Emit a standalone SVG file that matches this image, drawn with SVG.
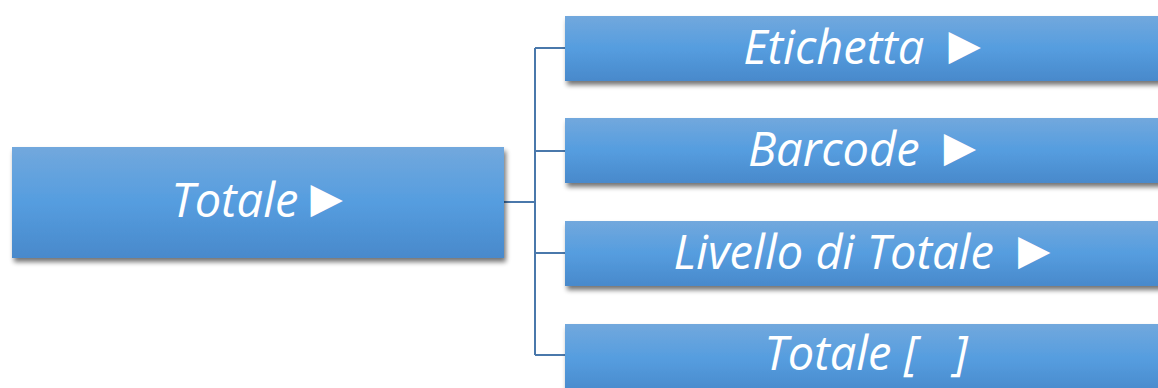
<svg xmlns="http://www.w3.org/2000/svg" width="1158" height="388" viewBox="0 0 1158 388">
<defs>
<linearGradient id="g" x1="0" y1="0" x2="0" y2="1">
<stop offset="0" stop-color="#72a8dd"/>
<stop offset="0.5" stop-color="#559ddf"/>
<stop offset="1" stop-color="#4989cb"/>
</linearGradient>
<filter id="sh" x="-10%" y="-20%" width="120%" height="150%">
<feGaussianBlur in="SourceAlpha" stdDeviation="2.5"/>
<feOffset dx="2" dy="4" result="b"/>
<feComponentTransfer><feFuncA type="linear" slope="0.55"/></feComponentTransfer>
<feMerge><feMergeNode/><feMergeNode in="SourceGraphic"/></feMerge>
</filter>
</defs>
<style>
.box{fill:url(#g);filter:url(#sh)}
.t{font-family:"Open Sans","Liberation Sans",sans-serif;font-style:italic;font-size:47px;fill:#ffffff;text-anchor:middle;white-space:pre}
.tri{font-family:"DejaVu Sans",sans-serif;font-style:normal;font-size:42px}
.c{fill:none;stroke:#4a78ab;stroke-width:2}
</style>
<rect width="1158" height="388" fill="#ffffff"/>
<g id="connectors">
<path class="c" d="M504 202 H535 M535 48 V355 M535 48 H565 M535 151 H565 M535 253 H565 M535 355 H565"/>
</g>
<g id="root">
<rect class="box" x="12" y="147" width="492" height="111"/>
<text class="t" x="257" y="217">Totale<tspan class="tri" dx="12" dy="-5">▶</tspan></text>
</g>
<g id="etichetta">
<rect class="box" x="565" y="16" width="600" height="65"/>
<text class="t" x="862" y="64">Etichetta <tspan class="tri" dx="12" dy="-5">▶</tspan></text>
</g>
<g id="barcode">
<rect class="box" x="565" y="118" width="600" height="65"/>
<text class="t" x="862" y="166">Barcode <tspan class="tri" dx="12" dy="-5">▶</tspan></text>
</g>
<g id="livello">
<rect class="box" x="565" y="221" width="600" height="65"/>
<text class="t" x="862" y="269">Livello di Totale <tspan class="tri" dx="12" dy="-5">▶</tspan></text>
</g>
<g id="totale-list">
<rect class="box" x="565" y="324" width="600" height="70"/>
<text class="t" x="866" y="370">Totale [   ]</text>
</g>
</svg>
